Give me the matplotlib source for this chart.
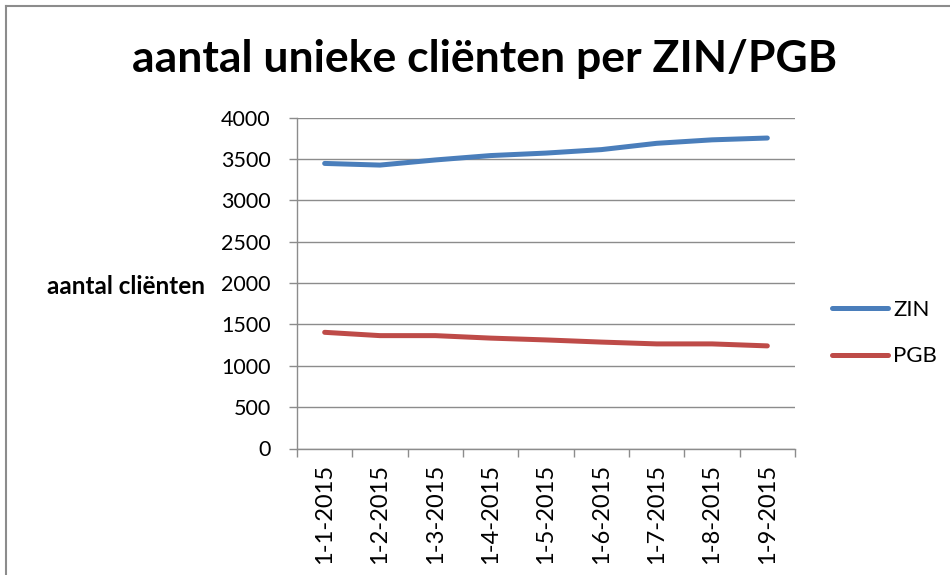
import matplotlib
matplotlib.use("Agg")
import matplotlib.pyplot as plt
from matplotlib.lines import Line2D

# data
dates = ["1-1-2015", "1-2-2015", "1-3-2015", "1-4-2015", "1-5-2015",
         "1-6-2015", "1-7-2015", "1-8-2015", "1-9-2015"]
zin = [3445, 3425, 3487, 3540, 3570, 3612, 3688, 3730, 3752]
pgb = [1404, 1364, 1364, 1334, 1312, 1286, 1264, 1264, 1240]
y_ticks = [0, 500, 1000, 1500, 2000, 2500, 3000, 3500, 4000]

plt.rcParams["font.family"] = ["Lato", "DejaVu Sans"]

W, H = 950, 575
fig = plt.figure(figsize=(W / 100, H / 100), dpi=100)
ax = fig.add_axes([297 / W, 1 - 448.5 / H, 498 / W, (448.5 - 117.5) / H])

x = list(range(len(dates)))
ax.plot(x, zin, color="#4A7EBB", lw=3.6, solid_capstyle="round", label="ZIN")
ax.plot(x, pgb, color="#BE4B48", lw=3.6, solid_capstyle="round", label="PGB")

ax.set_xlim(-0.5, len(dates) - 0.5)
ax.set_ylim(0, 4000)
ax.set_yticks(y_ticks)
ax.set_yticklabels([str(v) for v in y_ticks], fontsize=15.5)
ax.yaxis.grid(True, color="#8c8c8c", lw=1.0)
ax.set_axisbelow(True)

# category labels centred, tick marks on category boundaries (Excel style)
ax.set_xticks(x)
ax.set_xticklabels(dates, rotation=90, fontsize=17)
ax.tick_params(axis="x", which="major", length=0, pad=11)
ax.set_xticks([i - 0.5 for i in range(len(dates) + 1)], minor=True)
ax.tick_params(axis="x", which="minor", length=6, color="#8c8c8c", width=1.0)
ax.tick_params(axis="y", length=6, color="#8c8c8c", width=1.0, pad=13)

for side in ("top", "right"):
    ax.spines[side].set_visible(False)
for side in ("left", "bottom"):
    ax.spines[side].set_color("#8c8c8c")
    ax.spines[side].set_linewidth(1.0)

fig.text(205 / W, 1 - 287 / H, "aantal cliënten", ha="right", va="center",
         fontsize=17.5, fontweight="bold")

fig.text(485 / W, 1 - 72 / H, "aantal unieke cliënten per ZIN/PGB", ha="center",
         va="baseline", fontsize=32, fontweight="bold")

ax.legend(loc="center left", bbox_to_anchor=(832 / W, 1 - 333 / H),
          bbox_transform=fig.transFigure, frameon=False, fontsize=16,
          handlelength=2.5, labelspacing=1.2, handletextpad=0.25,
          borderpad=0, borderaxespad=0)

# chart frame (top and left edges visible)
fig.add_artist(Line2D([6 / W, 1.0], [1 - 6 / H, 1 - 6 / H], color="#8c8c8c", lw=1.5))
fig.add_artist(Line2D([6 / W, 6 / W], [0.0, 1 - 6 / H], color="#8c8c8c", lw=1.5))

fig.savefig("out.png", dpi=100)
